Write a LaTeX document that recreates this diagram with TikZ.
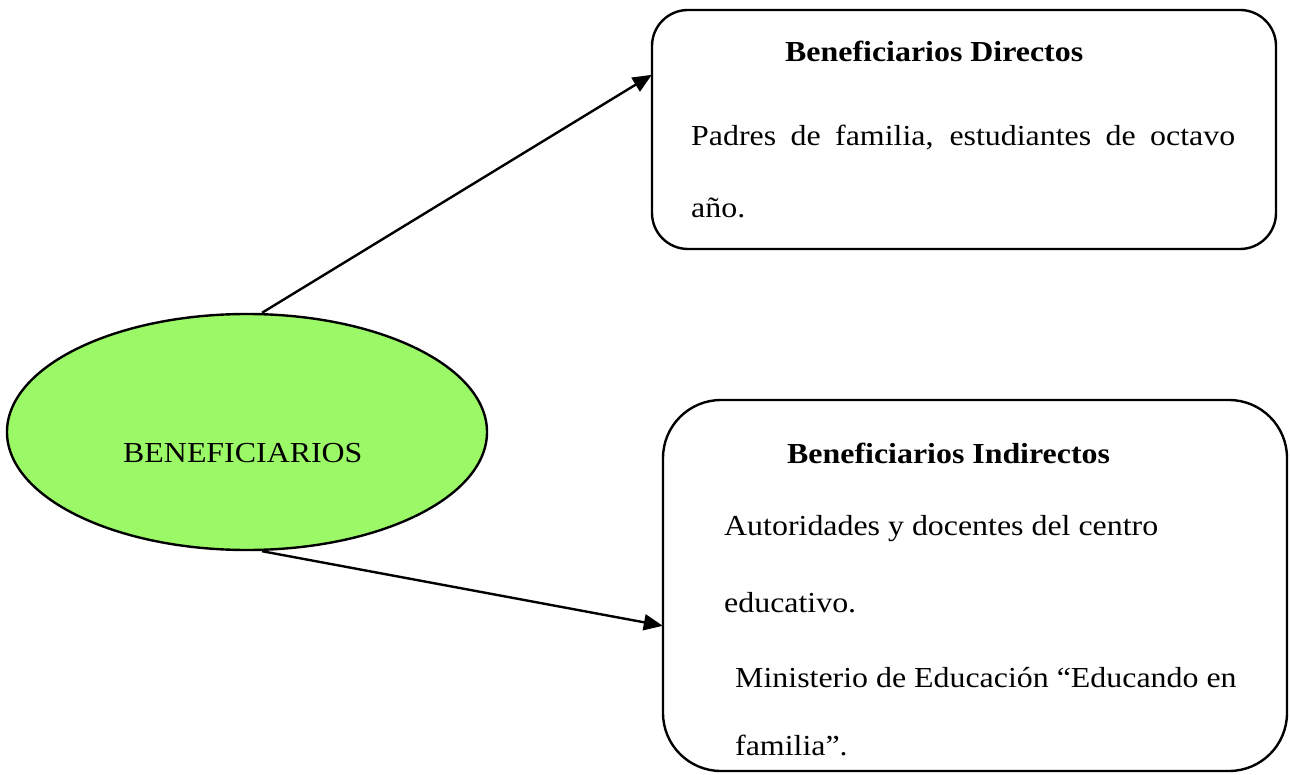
\documentclass[tikz,border=0pt]{standalone}
\usepackage{fontspec}
\setmainfont{Liberation Serif}[FakeStretch=1.1]
\usetikzlibrary{arrows.meta,shapes.geometric,calc}
\definecolor{ellgreen}{RGB}{155,249,104}
\tikzset{
  boxA/.style={draw,line width=2.4pt,rounded corners=#1,inner sep=0pt},
  txt/.style={anchor=base west,inner sep=0pt,font=\fontsize{29}{34}\selectfont},
  hdr/.style={txt,font=\fontsize{29}{34}\selectfont\bfseries},
  conn/.style={line width=2.4pt,-{Triangle[length=19pt,width=16pt]}}
}
\begin{document}
\begin{tikzpicture}[x=1pt,y=-1pt]
\useasboundingbox (0,0) rectangle (1290,775);
% ellipse
\node[ellipse,draw,line width=2.4pt,fill=ellgreen,minimum width=480pt,minimum height=236pt,inner sep=0pt] (ell) at (247,432) {};
\node[txt] (elltxt) at (123,462) {BENEFICIARIOS};
% boxes
\draw[boxA=36pt] (652,10) rectangle (1276,249);
\node[minimum width=624pt,minimum height=239pt,inner sep=0pt] (b1) at (964,129.5) {};
\draw[boxA=58pt] (663,400) rectangle (1287,771);
\node[minimum width=624pt,minimum height=371pt,inner sep=0pt] (b2) at (975,585.5) {};
% texts box 1
\node[hdr] (h1) at (785,62) {Beneficiarios Directos};
\node[txt] (t1a) at (691,146) {\makebox[544pt][s]{Padres de familia, estudiantes de octavo}};
\node[txt] (t1b) at (691,218) {año.};
% texts box 2
\node[hdr] (h2) at (787,463) {Beneficiarios Indirectos};
\node[txt] (t2a) at (724,535) {Autoridades y docentes del centro};
\node[txt] (t2b) at (724,612) {educativo.};
\node[txt] (t2c) at (735,687) {Ministerio de Educación “Educando en};
\node[txt] (t2d) at (735,755) {familia”.};
% connectors
\coordinate (s1) at ($(ell.north)+(15,0)$);
\coordinate (s2) at ($(ell.south)+(15,0)$);
\coordinate (e1) at ($(b1.north west)+(0,65)$);
\coordinate (e2) at ($(b2.north west)+(0,226)$);
\draw[conn] (s1) -- (e1);
\draw[conn] (s2) -- (e2);
\end{tikzpicture}
\end{document}
